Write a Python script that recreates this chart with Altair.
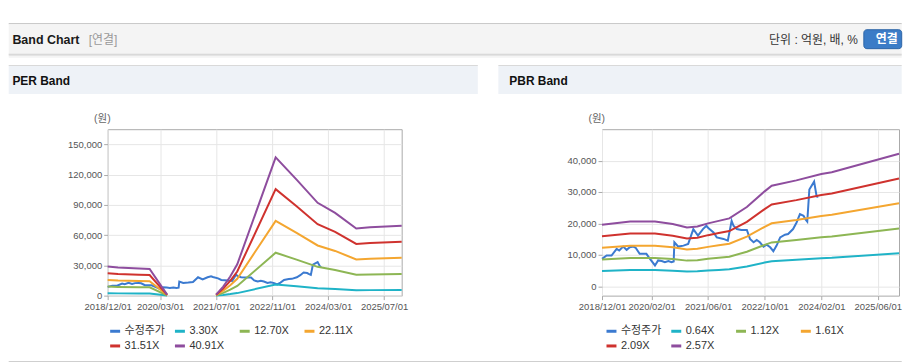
import altair as alt
import pandas as pd

FONT = "Liberation Sans, Noto Sans CJK KR"

# ---------------- data ----------------
price_dates = ["2018-12-01", "2019-01-10", "2019-02-21", "2019-04-06", "2019-04-28", "2019-06-01",
               "2019-07-01", "2019-07-28", "2019-08-28", "2019-09-18", "2019-10-21", "2019-12-18",
               "2020-01-18", "2020-03-01", "2020-03-28", "2020-04-28", "2020-05-25", "2020-06-25",
               "2020-07-21", "2020-08-09", "2020-08-15", "2020-09-18", "2020-11-01", "2020-12-12",
               "2021-01-25", "2021-03-06", "2021-04-18", "2021-05-18", "2021-06-03", "2021-07-18",
               "2021-08-15", "2021-10-12", "2021-11-18", "2021-12-21", "2022-01-06", "2022-02-03",
               "2022-03-15", "2022-05-01", "2022-05-28", "2022-06-28", "2022-07-25", "2022-08-21",
               "2022-09-21", "2022-10-18", "2022-11-18", "2022-12-15", "2023-01-12", "2023-02-12",
               "2023-03-25", "2023-04-21", "2023-06-03", "2023-07-03", "2023-08-01", "2023-09-01",
               "2023-09-18", "2023-10-03", "2023-10-21", "2023-12-01", "2023-12-21", "2024-01-01"]
price_values = [8700, 9780, 9780, 11900, 11360, 12620,
                11580, 12400, 12620, 12200, 10300, 10300,
                8730, 6620, 8200, 8000, 7670, 8000,
                7670, 7900, 14000, 12620, 12930, 13470,
                18200, 16100, 18200, 19240, 18500, 17130,
                15550, 15050, 14510, 20820, 19240, 18200,
                17890, 17890, 15050, 13980, 14730, 13980,
                12620, 13250, 12400, 11140, 12930, 15550,
                16400, 16630, 18200, 20290, 22930, 22400,
                21300, 20600, 30800, 33300, 29000, 28200]

colors = ["#3b7ad0", "#1fb3c7", "#8db654", "#f4a630", "#cf322e", "#8e4d9e"]

per_series = ["수정주가", "3.30X", "12.70X", "22.11X", "31.51X", "40.91X"]
per_dates = ["2018-12-01", "2019-03-01", "2019-09-01", "2019-12-01", "2020-05-01",
             "2021-07-01", "2021-09-01", "2021-11-01", "2022-01-01", "2022-12-01", "2023-06-01",
             "2023-12-01", "2024-05-01", "2024-11-01", "2025-03-01", "2025-12-01"]
per_segment = [1, 1, 1, 1, 1, 2, 2, 2, 2, 2, 2, 2, 2, 2, 2, 2]
per_330 = [2320, 2240, 2180, 2140, 80, 80, 730, 1530, 2500, 11050, 9280, 7420, 6620, 5360, 5460, 5590]
per_1270 = [8940, 8630, 8380, 8230, 310, 310, 2790, 5900, 9620, 42530, 35700, 28560, 25460, 20640, 21020, 21510]
per_2211 = [15570, 15020, 14590, 14320, 540, 540, 4860, 10270, 16750, 74040, 62150, 49720, 44320, 35940, 36590, 37450]
per_3151 = [22180, 21410, 20800, 20410, 770, 770, 6930, 14630, 23880, 105520, 88580, 70860, 63160, 51220, 52150, 53380]
per_4091 = [28800, 27800, 27000, 26500, 1000, 1000, 9000, 19000, 31000, 137000, 115000, 92000, 82000, 66500, 67700, 69300]
per_ticks = ["2018-12-01", "2020-03-01", "2021-07-01", "2022-11-01", "2024-03-01", "2025-07-01"]
per_yticks = [0, 30000, 60000, 90000, 120000, 150000]

pbr_series = ["수정주가", "0.64X", "1.12X", "1.61X", "2.09X", "2.57X"]
pbr_dates = ["2018-12-01", "2019-08-01", "2020-03-01", "2020-08-01", "2020-12-01", "2021-03-01",
             "2021-06-01", "2021-09-01", "2021-12-01", "2022-05-01", "2022-10-01", "2022-12-01",
             "2023-07-01", "2024-02-01", "2024-05-01", "2025-12-01"]
pbr_segment = [1] * 16
pbr_064 = [4880, 5130, 5130, 4930, 4660, 4730, 4980, 5180, 5380, 6280, 7520, 7970, 8390, 8890, 9040, 10510]
pbr_112 = [8540, 8980, 8980, 8630, 8150, 8280, 8720, 9060, 9410, 10980, 13160, 13950, 14690, 15560, 15820, 18390]
pbr_161 = [12280, 12910, 12910, 12400, 11720, 11900, 12530, 13030, 13530, 15790, 18920, 20050, 21110, 22370, 22740, 26440]
pbr_209 = [15940, 16750, 16750, 16100, 15210, 15450, 16260, 16920, 17570, 20490, 24560, 26020, 27410, 29030, 29520, 34320]
pbr_257 = [19600, 20600, 20600, 19800, 18700, 19000, 20000, 20800, 21600, 25200, 30200, 32000, 33700, 35700, 36300, 42200]
pbr_ticks = ["2018-12-01", "2020-02-01", "2021-06-01", "2022-10-01", "2024-02-01", "2025-06-01"]
pbr_yticks = [0, 10000, 20000, 30000, 40000]

x_start, x_end = "2018-12-01", "2025-12-01"

# ---------------- helpers ----------------
one = pd.DataFrame({"k": [0]})


def dt(s):
    y, m, d = (int(v) for v in s.split("-"))
    return alt.DateTime(year=y, month=m, date=d, utc=True)


def rect(x1, y1, x2, y2, color, ox, oy, **kw):
    return alt.Chart(one).mark_rect(color=color, **kw).encode(
        x=alt.value(x1 - ox), x2=alt.value(x2 - ox),
        y=alt.value(y1 - oy), y2=alt.value(y2 - oy))


def label(x, y, text, ox, oy, **kw):
    opts = dict(font=FONT, baseline="middle", align="left")
    opts.update(kw)
    return alt.Chart(one).mark_text(text=text, **opts).encode(
        x=alt.value(x - ox), y=alt.value(y - oy))


def panel(series, b_dates, b_segs, b_values, ticks, ydom, yticks, legend_x):
    rows = []
    for name, vals in zip(series[1:], b_values):
        for d, s, v in zip(b_dates, b_segs, vals):
            rows.append({"date": d, "value": v, "series": name, "seg": s})
    band_df = pd.DataFrame(rows)
    price_df = pd.DataFrame({"date": price_dates, "value": price_values,
                             "series": series[0], "seg": 0})
    x = alt.X("date:T",
              scale=alt.Scale(type="utc", domain=[dt(x_start), dt(x_end)], nice=False),
              axis=alt.Axis(values=[dt(t) for t in ticks],
                            labelExpr="utcFormat(datum.value, '%Y/%m/%d')",
                            title=None, labelOverlap=False, labelFlush=False,
                            labelFont=FONT, labelFontSize=9.5, labelColor="#555",
                            tickColor="#aaa", tickSize=4, domain=False,
                            gridColor="#e6e6e6", labelPadding=2))
    y = alt.Y("value:Q",
              scale=alt.Scale(domain=ydom, nice=False, zero=False),
              axis=alt.Axis(values=yticks, format=",d", title=None,
                            labelFont=FONT, labelFontSize=9.5, labelColor="#555",
                            tickColor="#aaa", tickSize=4, domain=False,
                            gridColor="#e6e6e6", labelPadding=2))
    color = alt.Color("series:N",
                      scale=alt.Scale(domain=series, range=colors),
                      legend=alt.Legend(title=None, orient="none", legendX=legend_x, legendY=196,
                                        direction="horizontal", columns=4, gridAlign="all",
                                        symbolType="stroke", symbolSize=100, symbolStrokeWidth=3,
                                        labelFont=FONT, labelFontSize=11, labelColor="#333",
                                        labelOffset=3, columnPadding=3, rowPadding=2, padding=0,
                                        labelLimit=0))
    price_layer = alt.Chart(price_df).mark_line(strokeWidth=2).encode(x=x, y=y, color=color)
    band_layer = alt.Chart(band_df).mark_line(strokeWidth=2).encode(
        x=x, y=y, color=color, detail="seg:N")
    return price_layer, band_layer


# ---------------- left panel (PER) ----------------
LX, LY = 107.3, 128.3
per_price, per_band = panel(per_series, per_dates, per_segment,
                            [per_330, per_1270, per_2211, per_3151, per_4091],
                            per_ticks, [0, 165000], per_yticks, 1)
left = alt.layer(
    rect(8, 22, 904, 23, "#b9b9b9", LX, LY),
    rect(8, 23, 904, 52.5, "#f4f4f4", LX, LY),
    rect(8, 52.5, 904, 53.5, "#c9c9c9", LX, LY),
    rect(8, 53.5, 904, 55, "#e4e4e4", LX, LY),
    rect(8, 55, 904, 56.5, "#f3f3f3", LX, LY),
    rect(866, 28.5, 904, 47.5, "#3b7cc7", LX, LY, cornerRadius=3, stroke="#2d64a7", strokeWidth=1),
    rect(8, 64, 478.7, 65, "#d9d9d9", LX, LY),
    rect(8, 65, 478.7, 93, "#eef2f7", LX, LY),
    rect(8, 361, 904, 362, "#cfcfcf", LX, LY),
    per_price, per_band,
    label(11.7, 38.5, "Band Chart", LX, LY, fontSize=12.5, fontWeight="bold", color="#1a1a1a"),
    label(88.3, 38.5, "[연결]", LX, LY, fontSize=12, color="#999999"),
    label(860, 38.5, "단위 : 억원, 배, %", LX, LY, fontSize=12, color="#333333", align="right"),
    label(889, 38, "연결", LX, LY, fontSize=12, fontWeight="bold", color="#ffffff", align="center"),
    label(11.7, 80, "PER Band", LX, LY, fontSize=12, fontWeight="bold", color="#111111"),
    label(102, 118, "(원)", LX, LY, fontSize=10.5, color="#666666", align="center"),
).properties(width=295, height=167)

# ---------------- right panel (PBR) ----------------
RX, RY = 603.3, 128.3
pbr_price, pbr_band = panel(pbr_series, pbr_dates, pbr_segment,
                            [pbr_064, pbr_112, pbr_161, pbr_209, pbr_257],
                            pbr_ticks, [-3000, 50000], pbr_yticks, 3)
right = alt.layer(
    rect(499.3, 64, 904, 65, "#d9d9d9", RX, RY),
    rect(499.3, 65, 904, 93, "#eef2f7", RX, RY),
    pbr_price, pbr_band,
    label(510.3, 80, "PBR Band", RX, RY, fontSize=12, fontWeight="bold", color="#111111"),
    label(598, 118, "(원)", RX, RY, fontSize=10.5, color="#666666", align="center"),
).properties(width=298, height=167)

chart = alt.hconcat(left, right, spacing=201, bounds="flush").resolve_scale(
    color="independent"
).properties(
    padding={"top": 14, "left": 0, "right": 0, "bottom": 0},
    background="white",
).configure_view(stroke="#aaaaaa", strokeWidth=1)

chart.save("out.html", embed_options={"renderer": "svg", "actions": False})
